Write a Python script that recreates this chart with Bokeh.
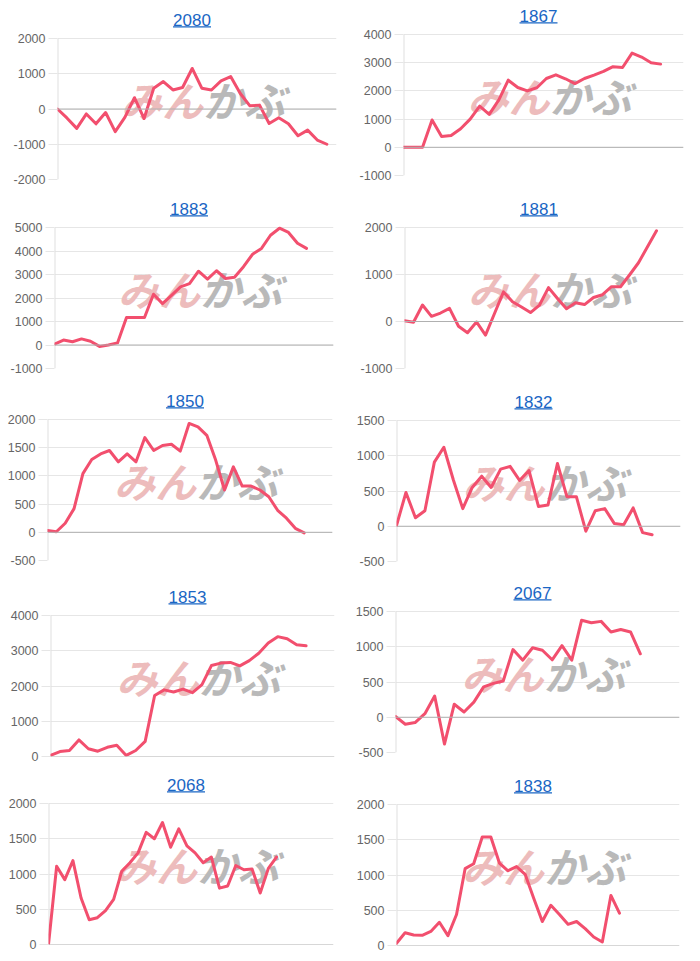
from bokeh.plotting import figure
from bokeh.layouts import column, row
from bokeh.models import Range1d, FixedTicker, Span, Label, BoxAnnotation
from bokeh.embed import file_html
from bokeh.resources import INLINE

# ---- data ----
codes = ["2080", "1867", "1883", "1881", "1850", "1832", "1853", "2067", "2068", "1838"]

s2080 = [0, -260, -550, -140, -420, -100, -640, -240, 320, -270, 590, 780, 540, 610, 1150,
         590, 540, 800, 920, 440, 90, 110, -410, -250, -420, -760, -600, -880, -1000]
s1867 = [0, 0, 0, 970, 380, 420, 660, 1000, 1460, 1170, 1670, 2380, 2120, 2000, 2110, 2440,
         2570, 2430, 2260, 2440, 2560, 2690, 2860, 2830, 3340, 3200, 3000, 2950]
s1883 = [40, 210, 140, 260, 160, -60, 0, 90, 1170, 1170, 1170, 2160, 1760, 2110, 2470, 2610,
         3140, 2800, 3160, 2830, 2880, 3330, 3860, 4110, 4670, 4970, 4790, 4330, 4110]
s1881 = [15, -15, 350, 110, 180, 280, -100, -240, -10, -290, 170, 630, 420, 310, 190, 350,
         720, 490, 270, 400, 360, 510, 570, 740, 740, 990, 1250, 1590, 1930]
s1850 = [30, 10, 160, 420, 1040, 1290, 1390, 1450, 1250, 1390, 1250, 1680, 1450, 1540, 1560,
         1440, 1930, 1870, 1720, 1280, 750, 1160, 820, 820, 750, 630, 390, 250, 70, -10]
s1832 = [10, 480, 120, 220, 910, 1120, 660, 250, 550, 710, 550, 810, 850, 650, 790, 280, 300,
         890, 420, 420, -70, 220, 250, 40, 20, 260, -90, -120]
s1853 = [30, 140, 170, 470, 220, 150, 260, 320, 30, 170, 430, 1730, 1890, 1830, 1910, 1810,
         2040, 2580, 2650, 2670, 2570, 2720, 2930, 3220, 3400, 3340, 3170, 3140]
s2067 = [10, -100, -75, 50, 300, -380, 185, 75, 215, 430, 480, 515, 960, 810, 985, 950, 815,
         1015, 810, 1375, 1340, 1360, 1210, 1245, 1210, 900]
s2068 = [0, 1110, 920, 1190, 660, 350, 380, 480, 640, 1040, 1160, 1300, 1590, 1500, 1730, 1380,
         1640, 1400, 1300, 1160, 1240, 800, 830, 1120, 1060, 1070, 730, 1080, 1240]
s1838 = [30, 180, 150, 145, 200, 330, 140, 440, 1090, 1160, 1540, 1540, 1170, 1060, 1120, 1010,
         670, 340, 570, 440, 300, 340, 240, 120, 50, 710, 460]

series = [s2080, s1867, s1883, s1881, s1850, s1832, s1853, s2067, s2068, s1838]

y_mins = [-2000, -1000, -1000, -1000, -500, -500, 0, -500, 0, 0]
y_maxs = [2000, 4000, 5000, 2000, 2000, 1500, 4000, 1500, 2000, 2000]
y_steps = [1000, 1000, 1000, 1000, 500, 500, 1000, 500, 500, 500]

# ---- layout (x-axis span, borders) ----
x_ends = [29, 29.4, 31, 31, 32.2, 30, 30, 29, 35, 33]
# (border_left, frame_width, border_right, title_area, border_bottom)
geo = [
    (57, 279, 9, 38, 16), (58, 280, 9, 34, 20),
    (54, 279, 12, 32, 22), (59, 279, 9, 32, 22),
    (47, 285, 13, 29, 25), (51, 284, 12, 30, 24),
    (50, 284, 11, 30, 19), (50, 284, 13, 26, 23),
    (48, 285, 12, 28, 9), (51, 283, 13, 29, 8),
]
FH = 141

LINE = "#f24f6e"
BLUE = "#1a66c4"
FONT = "Liberation Sans"


def make(i):
    bl, fw, br, ta, bb = geo[i]
    ymin, ymax, step = y_mins[i], y_maxs[i], y_steps[i]
    ytop = ymax + (ymax - ymin) * ta / FH   # room for the title inside the frame
    p = figure(frame_width=fw, frame_height=FH + ta,
               min_border_left=bl, min_border_right=br,
               min_border_top=0, min_border_bottom=bb,
               x_range=Range1d(0, x_ends[i]), y_range=Range1d(ymin, ytop),
               output_backend="svg", toolbar_location=None)
    p.outline_line_color = None
    p.xaxis.visible = False
    p.xgrid.visible = False
    ticks = list(range(ymin, ymax + 1, step))
    p.yaxis.ticker = FixedTicker(ticks=ticks)
    p.yaxis.major_label_overrides = {t: str(t) for t in ticks}
    p.yaxis.axis_line_color = None
    p.yaxis.major_tick_out = 9
    p.yaxis.major_tick_in = 0
    p.yaxis.major_tick_line_color = "#e6e6e6"
    p.yaxis.minor_tick_line_color = None
    p.yaxis.major_label_standoff = 3
    p.yaxis.major_label_text_font = FONT
    p.yaxis.major_label_text_font_size = "12.5px"
    p.yaxis.major_label_text_color = "#666666"
    p.ygrid.ticker = FixedTicker(ticks=ticks)
    p.ygrid.grid_line_color = "#e6e6e6"

    # y axis line only over the data range
    p.segment(x0=[0], y0=[ymin], x1=[0], y1=[ymax], line_color="#e0e0e0", line_width=2)

    # watermark
    wx = fw / 2 + 6
    wy = FH / 2 + 10
    p.add_layout(Label(x=wx, y=wy, x_units="screen", y_units="screen", text="みん",
                       text_align="right", text_baseline="middle",
                       text_font="Noto Sans CJK JP", text_font_style="bold italic",
                       text_font_size="41px", text_color="#edbcbc", level="underlay"))
    p.add_layout(Label(x=wx, y=wy, x_units="screen", y_units="screen", text="かぶ",
                       text_align="left", text_baseline="middle",
                       text_font="Noto Sans CJK JP", text_font_style="bold italic",
                       text_font_size="41px", text_color="#b9b9b9", level="underlay"))

    p.add_layout(Span(location=0, dimension="width", line_color="#b0b0b0", line_width=1))

    vals = series[i]
    p.line(x=list(range(len(vals))), y=vals, line_color=LINE, line_width=3,
           line_join="round", line_cap="round")

    # title (underlined link style)
    tx = fw / 2 - 5
    p.add_layout(Label(x=tx, y=FH + 19, x_units="screen", y_units="screen", text=codes[i],
                       text_align="center", text_baseline="alphabetic",
                       text_font=FONT, text_font_size="17px", text_color=BLUE))
    p.add_layout(BoxAnnotation(left=tx - 19, right=tx + 19, bottom=FH + 11, top=FH + 12.2,
                               left_units="screen", right_units="screen",
                               top_units="screen", bottom_units="screen",
                               fill_color=BLUE, fill_alpha=1, line_color=None))
    return p


figs = [make(i) for i in range(10)]
layout = column(*[row(figs[2 * r], figs[2 * r + 1], spacing=0) for r in range(5)], spacing=0)

open("out.html", "w").write(file_html(layout, INLINE))
